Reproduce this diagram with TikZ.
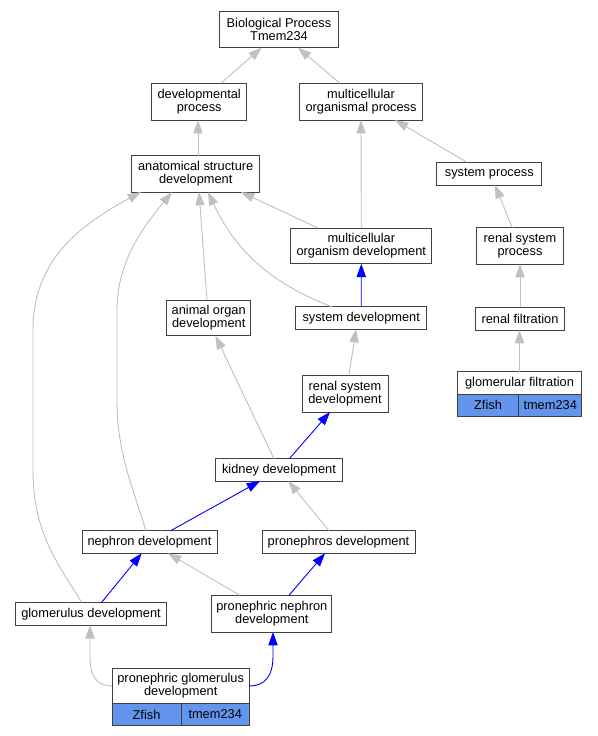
\documentclass[tikz,border=0pt]{standalone}
\usepackage{fontspec}
\setmainfont{Liberation Sans}
\usetikzlibrary{arrows.meta}
\newcommand{\gvfont}{\fontsize{12.8}{13.3}\selectfont}
\definecolor{edgegray}{RGB}{192,192,192}
\definecolor{cellblue}{RGB}{100,149,237}
\definecolor{boxline}{RGB}{64,64,64}
\tikzset{
  box/.style={draw=boxline, line width=1pt, fill=white, inner sep=0pt, outer sep=0pt, align=center, font=\gvfont},
  cell/.style={box, fill=cellblue},
  isa/.style={draw=edgegray, line width=0.9pt, -{Triangle[length=13.3pt,width=9.3pt]}},
  partof/.style={draw=blue, line width=0.9pt, -{Triangle[length=13.3pt,width=9.3pt]}},
}
\begin{document}
\begin{tikzpicture}[x=1pt,y=-1pt]
\useasboundingbox[fill=white] (0,0) rectangle (597,736);
% nodes
\node[box, minimum width=119.4pt, minimum height=36pt] (bp) at (279,29.7) {Biological Process\\Tmem234};
\node[box, minimum width=95pt, minimum height=36.7pt] (devp) at (199.2,101.7) {developmental\\process};
\node[box, minimum width=123.4pt, minimum height=36.7pt] (mop) at (361,101.7) {multicellular\\organismal process};
\node[box, minimum width=128pt, minimum height=36.3pt] (asd) at (195.7,173.9) {anatomical structure\\development};
\node[box, minimum width=104.7pt, minimum height=22.7pt] (sp) at (489.3,173.7) {system process};
\node[box, minimum width=141.3pt, minimum height=35.7pt] (mod) at (361.3,245.9) {multicellular\\organism development};
\node[box, minimum width=86.7pt, minimum height=36.3pt] (rsp) at (520,245.9) {renal system\\process};
\node[box, minimum width=84pt, minimum height=35.7pt] (aod) at (208.7,317.9) {animal organ\\development};
\node[box, minimum width=131pt, minimum height=22.3pt] (sd) at (361.2,317.9) {system development};
\node[box, minimum width=88.6pt, minimum height=22.7pt] (rf) at (520,318.7) {renal filtration};
\node[box, minimum width=86pt, minimum height=36.7pt] (rsd) at (345,393.7) {renal system\\development};
\node[box, minimum width=124.4pt, minimum height=22.6pt] (gf) at (519.5,383) {glomerular filtration};
\node[cell, minimum width=61.4pt, minimum height=21.7pt] (gfz) at (488,405.15) {Zfish};
\node[cell, minimum width=63pt, minimum height=21.7pt] (gft) at (550.2,405.15) {tmem234};
\node[box, minimum width=126.6pt, minimum height=22.3pt] (kd) at (279,469.9) {kidney development};
\node[box, minimum width=135pt, minimum height=22.6pt] (nd) at (149.5,542) {nephron development};
\node[box, minimum width=153pt, minimum height=22.6pt] (pd) at (338.5,542) {pronephros development};
\node[box, minimum width=150.6pt, minimum height=23pt] (gd) at (91,613.8) {glomerulus development};
\node[box, minimum width=120.3pt, minimum height=36.7pt] (pnd) at (271.8,613.7) {pronephric nephron\\development};
\node[box, minimum width=137.3pt, minimum height=35.7pt] (pgd) at (180.7,685.9) {pronephric glomerulus\\development};
\node[cell, minimum width=69pt, minimum height=21.6pt] (pgdz) at (146.5,714.5) {Zfish};
\node[cell, minimum width=68.3pt, minimum height=21.6pt] (pgdt) at (215.2,714.5) {tmem234};
% edges
\draw[isa] ([xshift=21.5pt]devp.north) -- ([xshift=-17.3pt]bp.south);
\draw[isa] ([xshift=-21pt]mop.north) -- ([xshift=19pt]bp.south);
\draw[isa] ([xshift=2.3pt]asd.north) -- ([xshift=-1.2pt]devp.south);
\draw[isa] (mod.north) -- (mop.south);
\draw[isa] ([xshift=-22.3pt]sp.north) -- ([xshift=34pt]mop.south);
\draw[isa] ([xshift=-43.3pt]mod.north) -- ([xshift=45.3pt]asd.south);
\draw[partof] (sd.north) -- (mod.south);
\draw[isa] ([xshift=-29.5pt]sd.north) .. controls (270,283) and (235,250) .. ([xshift=12.3pt]asd.south);
\draw[isa] ([xshift=-1.7pt]aod.north) -- ([xshift=3.3pt]asd.south);
\draw[isa] ([xshift=-7.7pt]rsp.north) -- ([xshift=5.7pt]sp.south);
\draw[isa] (rf.north) -- (rsp.south);
\draw[isa] (gf.north) -- ([xshift=-0.5pt]rf.south);
\draw[isa] ([xshift=4pt]rsd.north) -- ([xshift=-5.2pt]sd.south);
\draw[isa] ([xshift=-5pt]kd.north) -- ([xshift=6.8pt]aod.south);
\draw[partof] ([xshift=10.3pt]kd.north) -- ([xshift=-15pt]rsd.south);
\draw[partof] ([xshift=21.2pt]nd.north) -- ([xshift=-19pt]kd.south);
\draw[isa] ([xshift=-9.5pt]pd.north) -- ([xshift=9.3pt]kd.south);
\draw[isa] ([xshift=-3.5pt]nd.north) .. controls (130,480) and (117,450) .. (117,400) -- (117,310) .. controls (117,260) and (145,225) .. ([xshift=-23.7pt]asd.south);
\draw[isa] ([xshift=-9.3pt]gd.north) .. controls (55,560) and (33,530) .. (33,470) -- (33,330) .. controls (33,260) and (80,225) .. ([xshift=-54.7pt]asd.south);
\draw[partof] ([xshift=10.7pt]gd.north) -- ([xshift=-7.8pt]nd.south);
\draw[isa] ([xshift=-31.8pt]pnd.north) -- ([xshift=18.5pt]nd.south);
\draw[partof] ([xshift=17.2pt]pnd.north) -- ([xshift=-13.5pt]pd.south);
\draw[isa] (pgd.west) .. controls (96,686) and (90,676) .. (90,656) -- ([xshift=-1pt]gd.south);
\draw[partof] (pgd.east) .. controls (265,686) and (273,676) .. (273,656) -- ([xshift=1.2pt]pnd.south);
\end{tikzpicture}
\end{document}
